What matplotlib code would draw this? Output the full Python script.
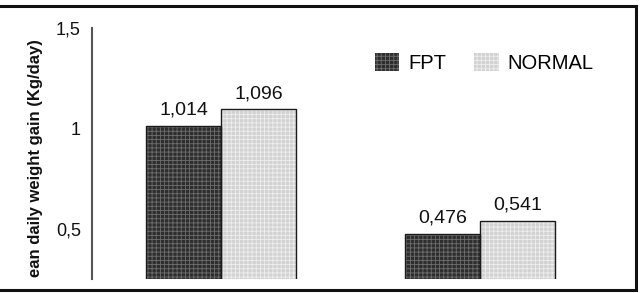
import matplotlib
matplotlib.use("Agg")
import matplotlib.pyplot as plt
from matplotlib.patches import Rectangle
import numpy as np

plt.rcParams['font.family'] = ['Liberation Sans', 'DejaVu Sans']
plt.rcParams['hatch.linewidth'] = 0.6

groups = ["A", "B"]
series = ["FPT", "NORMAL"]
fpt = [1.014, 0.476]
normal = [1.096, 0.541]
fpt_labels = ["1,014", "0,476"]
normal_labels = ["1,096", "0,541"]
yticks = [0.5, 1.0, 1.5]
ytick_labels = ["0,5", "1", "1,5"]
ylabel = "ean daily weight gain (Kg/day)"

W, H = 643, 293
fig = plt.figure(figsize=(W/100, H/100), dpi=100)
ax = fig.add_axes([92/W, 1-279/H, (609.5-92)/W, (279-28.5)/H])

x = np.arange(len(groups))
bw = 0.29
styles = [
    dict(face='#2e2e2e', hatchc='#6e6e6e'),
    dict(face='#d2d2d2', hatchc='#eeeeee'),
]
handles = []
for i, (vals, labs) in enumerate([(fpt, fpt_labels), (normal, normal_labels)]):
    xs = x + (i - 0.5) * bw
    st = styles[i]
    ax.bar(xs, vals, bw, bottom=0, color=st['face'], edgecolor=st['hatchc'],
           hatch='++++', linewidth=0, zorder=2)
    ax.bar(xs, vals, bw, bottom=0, fill=False, edgecolor='#1a1a1a',
           linewidth=1.0, zorder=3)
    for xx, v, t in zip(xs, vals, labs):
        ax.text(xx, v + 0.035, t, ha='center', va='bottom', fontsize=14, color='#111111')
    h = Rectangle((0, 0), 1, 1, facecolor=st['face'], edgecolor=st['hatchc'],
                  hatch='++++', linewidth=0)
    handles.append(h)

ax.set_xlim(-0.5, 1.5)
ax.set_ylim(0.25, 1.5)
ax.set_yticks(yticks)
ax.set_yticklabels(ytick_labels, fontsize=13, color='#111111')
ax.tick_params(axis='y', length=0, pad=8)
ax.set_xticks([])
for s in ['top', 'right', 'bottom']:
    ax.spines[s].set_visible(False)
ax.spines['left'].set_color('#555555')
ax.spines['left'].set_linewidth(1.5)

fig.text(36/W, 1-158.5/H, ylabel, rotation=90, ha='center', va='center',
         fontsize=12, fontweight='bold', color='#111111')

leg = fig.legend(handles, series, loc='center left',
                 bbox_to_anchor=(375/W, 1-63/H), ncol=2, frameon=False,
                 fontsize=14.5, handlelength=1.2, handleheight=1.0,
                 handletextpad=0.45, columnspacing=1.4, borderpad=0,
                 borderaxespad=0)

fig.patches.append(Rectangle((-0.02, 1-290/H), 636/W + 0.02, (290-6)/H,
                             transform=fig.transFigure, fill=False,
                             edgecolor='#111111', linewidth=2.2))

fig.savefig("out.png", dpi=100)
